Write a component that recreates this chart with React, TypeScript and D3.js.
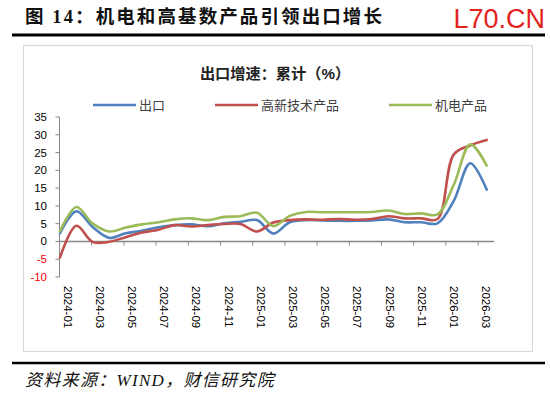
import React from 'react';
import * as d3 from 'd3';

const months = [
  '2024-01', '2024-02', '2024-03', '2024-04', '2024-05', '2024-06', '2024-07', '2024-08', '2024-09',
  '2024-10', '2024-11', '2024-12', '2025-01', '2025-02', '2025-03', '2025-04', '2025-05', '2025-06',
  '2025-07', '2025-08', '2025-09', '2025-10', '2025-11', '2025-12', '2026-01', '2026-02', '2026-03',
];
const tickLabels = [
  '2024-01', '2024-03', '2024-05', '2024-07', '2024-09', '2024-11', '2025-01',
  '2025-03', '2025-05', '2025-07', '2025-09', '2025-11', '2026-01', '2026-03',
];
const yTicks = [35, 30, 25, 20, 15, 10, 5, 0, -5, -10];

const exportsTotal = [2.3, 8.5, 4.0, 1.0, 2.3, 3.0, 4.0, 4.6, 4.8, 4.3, 5.1, 5.5, 6.0, 2.2, 5.4, 6.0, 5.9, 5.8, 5.8, 5.9, 6.2, 5.4, 5.4, 5.1, 11.5, 22.0, 14.6];
const hiTech = [-4.5, 4.4, -0.2, -0.1, 1.2, 2.5, 3.3, 4.6, 4.2, 4.6, 4.9, 4.9, 2.8, 5.3, 6.0, 6.2, 6.1, 6.3, 6.1, 6.3, 7.1, 6.5, 6.5, 6.3, 24.5, 27.0, 28.5];
const mechElec = [2.8, 9.7, 5.0, 2.8, 3.9, 4.8, 5.4, 6.2, 6.5, 6.0, 6.9, 7.1, 8.1, 4.3, 7.2, 8.3, 8.2, 8.2, 8.2, 8.3, 8.7, 7.7, 7.9, 7.6, 16.0, 27.3, 21.3];

const seriesNames = ['出口', '高新技术产品', '机电产品'];
const seriesColors = ['#4F81BD', '#C0504D', '#9BBB59'];

export default function App() {
  const W = 550;
  const H = 396;
  const y = d3.scaleLinear().domain([-10, 35]).range([277, 117]);
  const xBand = d3.scaleBand<string>().domain(months).range([59.5, 494.2]).padding(0);
  const xLine = d3.scalePoint<string>().domain(months).range([60, 486.7]);
  const lineGen = d3
    .line<number>()
    .x((_, i) => xLine(months[i]) as number)
    .y((v) => y(v))
    .curve(d3.curveCatmullRom.alpha(0.5));

  const series = [exportsTotal, hiTech, mechElec];
  const legendX = [93, 215, 389];
  const axisColor = '#868686';
  const cjk = '"Liberation Sans", "Noto Sans CJK SC", sans-serif';

  return (
    <svg
      width={W}
      height={H}
      style={{ position: 'absolute', left: 0, top: 0, background: '#fff' }}
    >
      <rect x={0} y={0} width={W} height={H} fill="#fff" />
      {/* header */}
      <text
        x={25}
        y={23}
        fontSize={18.5}
        fontWeight={700}
        letterSpacing={2.1}
        fontFamily='"Liberation Serif", "Noto Sans CJK SC", serif'
        fill="#111"
      >
        图 14：机电和高基数产品引领出口增长
      </text>
      <text x={545} y={28} textAnchor="end" fontSize={27} fontFamily='"Liberation Sans", Arial, sans-serif' fill="#E3231C">
        L70.CN
      </text>
      <line x1={12} x2={545} y1={35} y2={35} stroke="#000" strokeWidth={3} />

      {/* chart frame */}
      <rect x={23.5} y={45.5} width={509} height={306} fill="none" stroke="#d9d9d9" strokeWidth={1.2} />

      <text x={275} y={79} textAnchor="middle" fontSize={15.2} fontWeight={700} fontFamily={cjk} fill="#222">
        出口增速：累计（%）
      </text>

      {/* legend */}
      {seriesNames.map((n, i) => (
        <g key={n}>
          <line x1={legendX[i]} x2={legendX[i] + 43} y1={105} y2={105} stroke={seriesColors[i]} strokeWidth={2.5} />
          <text x={legendX[i] + 46} y={110} fontSize={13} fontFamily={cjk} fill="#404040">
            {n}
          </text>
        </g>
      ))}

      {/* y axis */}
      <line x1={59.5} x2={59.5} y1={y(35)} y2={y(-10)} stroke={axisColor} strokeWidth={1} />
      {yTicks.map((t) => (
        <g key={t}>
          <line x1={55.5} x2={59.5} y1={y(t)} y2={y(t)} stroke={axisColor} strokeWidth={1} />
          <text
            x={47}
            y={y(t)}
            dy="0.35em"
            textAnchor="end"
            fontSize={11.5}
            fontFamily='"Liberation Sans", Arial, sans-serif'
            fill={t < 0 ? '#FF0000' : '#000'}
          >
            {t}
          </text>
        </g>
      ))}

      {/* x axis at zero */}
      <line x1={59.5} x2={494.2} y1={y(0)} y2={y(0)} stroke={axisColor} strokeWidth={1.5} />
      {tickLabels.map((m) => {
        const bx = xBand(m) as number;
        const cx = bx + xBand.bandwidth() / 2;
        return (
          <g key={m}>
            <line x1={bx} x2={bx} y1={y(0)} y2={y(0) + 4} stroke={axisColor} strokeWidth={1} />
            <text
              transform={`translate(${cx},286) rotate(90)`}
              dy="0.35em"
              fontSize={11.5}
              fontFamily='"Liberation Sans", Arial, sans-serif'
              fill="#000"
            >
              {m}
            </text>
          </g>
        );
      })}

      {/* lines */}
      {series.map((s, i) => (
        <path
          key={seriesNames[i]}
          d={lineGen(s) || ''}
          fill="none"
          stroke={seriesColors[i]}
          strokeWidth={2.6}
          strokeLinejoin="round"
          strokeLinecap="round"
        />
      ))}

      {/* footer */}
      <line x1={12} x2={545} y1={363} y2={363} stroke="#000" strokeWidth={2.5} />
      <text
        x={25}
        y={386}
        fontSize={17}
        fontStyle="italic"
        letterSpacing={1.3}
        fontFamily='"Liberation Serif", "Noto Sans CJK SC", serif'
        fill="#111"
      >
        资料来源：WIND，财信研究院
      </text>
    </svg>
  );
}
